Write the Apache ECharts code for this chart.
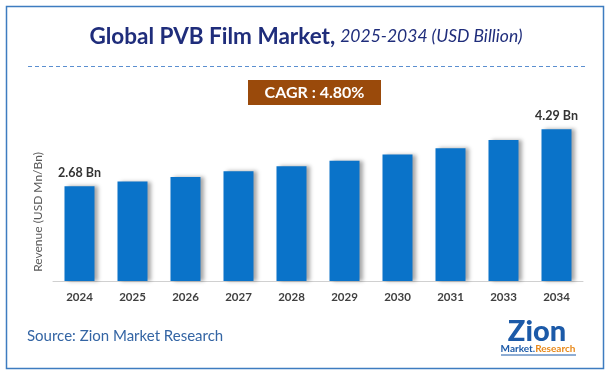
<!DOCTYPE html>
<html>
<head>
<meta charset="utf-8">
<script src="https://cdn.jsdelivr.net/npm/echarts@6/dist/echarts.min.js"></script>
<style>
html,body{margin:0;padding:0;background:#fff;}
#chart{width:612px;height:374px;}
</style>
</head>
<body>
<div id="chart"></div>
<script>
const years = ['2024','2025','2026','2027','2028','2029','2030','2031','2033','2034'];
const revenue = [2.68, 2.81, 2.94, 3.10, 3.24, 3.40, 3.57, 3.75, 3.98, 4.29];
const titleMain = 'Global PVB Film Market,';
const titleSub = '2025-2034 (USD Billion)';
const cagrText = 'CAGR : 4.80%';
const yAxisName = 'Revenue (USD Mn/Bn)';
const sourceText = 'Source: Zion Market Research';

const FONT = 'Lato, "Open Sans", sans-serif';
const chart = echarts.init(document.getElementById('chart'), null, {renderer: 'canvas'});
const last = revenue.length - 1;

chart.setOption({
  backgroundColor: '#ffffff',
  animation: false,
  title: {
    text: '{a|' + titleMain + '} {b|' + titleSub + '}',
    left: 'center',
    top: 20,
    textStyle: {
      fontWeight: 'normal',
      rich: {
        a: {fontFamily: FONT, fontWeight: 'bold', fontSize: 22.5, color: '#1f2d7b'},
        b: {fontFamily: FONT, fontStyle: 'italic', fontWeight: 'normal', fontSize: 17.5, color: '#1f2d7b'}
      }
    }
  },
  grid: {left: 53, right: 29, top: 104, bottom: 93},
  xAxis: {
    type: 'category',
    data: years,
    axisLine: {lineStyle: {color: '#d0d0d0', width: 1}},
    axisTick: {show: false},
    axisLabel: {fontFamily: FONT, fontWeight: 'bold', fontSize: 11.5, color: '#404040', margin: 10}
  },
  yAxis: {
    type: 'value',
    min: 0,
    max: 5,
    show: false,
    splitLine: {show: false}
  },
  series: [{
    type: 'bar',
    data: revenue,
    barWidth: 30,
    itemStyle: {
      color: '#0a73c9',
      shadowColor: 'rgba(0,0,0,0.35)',
      shadowBlur: 4,
      shadowOffsetX: 3,
      shadowOffsetY: 0
    },
    label: {
      show: true,
      position: 'top',
      distance: 7,
      fontFamily: FONT,
      fontWeight: 'bold',
      fontSize: 12.5,
      color: '#333333',
      formatter: function (p) {
        return (p.dataIndex === 0 || p.dataIndex === last) ? p.value.toFixed(2) + ' Bn' : '';
      }
    }
  }],
  graphic: [
    {type: 'rect', shape: {x: 6.5, y: 6.5, width: 597, height: 362}, style: {fill: 'none', stroke: '#3d7cc0', lineWidth: 1.5}, silent: true, z: -1},
    {type: 'line', shape: {x1: 28, y1: 66.5, x2: 585, y2: 66.5}, style: {stroke: '#5b8fd0', lineWidth: 1, lineDash: [4, 3]}, silent: true},
    {type: 'rect', shape: {x: 248, y: 80, width: 133, height: 25}, style: {fill: '#9a4a0b'}, silent: true},
    {type: 'text', x: 314.5, y: 93, style: {text: cagrText, fill: '#ffffff', font: 'bold 16px ' + FONT, textAlign: 'center', textVerticalAlign: 'middle'}, silent: true},
    {type: 'text', x: 38, y: 212, rotation: Math.PI / 2, style: {text: yAxisName, fill: '#595959', font: '12px ' + FONT, textAlign: 'center', textVerticalAlign: 'middle'}, silent: true},
    {type: 'text', x: 27, y: 336, style: {text: sourceText, fill: '#3465a4', font: '15px ' + FONT, textAlign: 'left', textVerticalAlign: 'middle'}, silent: true},
    {type: 'text', x: 537, y: 332, style: {text: 'Zion', fill: '#1c5aa8', font: '900 29px ' + FONT, textAlign: 'center', textVerticalAlign: 'middle'}, silent: true},
    {type: 'text', x: 538, y: 349, style: {
      text: '{m|Market.}{r|Research}', textAlign: 'center', textVerticalAlign: 'middle',
      rich: {
        m: {fontFamily: FONT, fontWeight: 'bold', fontSize: 10, fill: '#1c5aa8', color: '#1c5aa8'},
        r: {fontFamily: FONT, fontWeight: 'bold', fontSize: 10, fill: '#e8891a', color: '#e8891a'}
      }
    }, silent: true},
    {type: 'line', shape: {x1: 501, y1: 355, x2: 576, y2: 355}, style: {stroke: '#1c5aa8', lineWidth: 1}, silent: true}
  ]
});
</script>
</body>
</html>
